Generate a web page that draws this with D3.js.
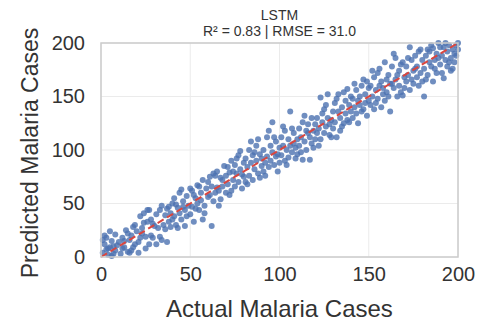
<!DOCTYPE html>
<html>
<head>
<meta charset="utf-8">
<script src="https://cdn.jsdelivr.net/npm/d3@7"></script>
<style>
  html, body { margin: 0; padding: 0; background: #fff; }
  svg { display: block; font-family: "Liberation Sans", Arial, sans-serif; }
</style>
</head>
<body>
<div id="chart"></div>
<script>
// chart texts
const modelName = 'LSTM';
const scoreLine = 'R\u00b2 = 0.83 | RMSE = 31.0';
const xLabel = 'Actual Malaria Cases';
const yLabel = 'Predicted Malaria Cases';
const xTicks = [0, 50, 100, 150, 200];
const yTicks = [0, 50, 100, 150, 200];

// [actual, predicted] pairs
const cases = [
  [1, 4], [2, 12], [3, 18], [4, 2], [5, 9], [6, 15], [7, 3], [8, 21], [9, 11], [3, 7], [6, 1], [8, 6], [2, 20], [10, 14], [5, 24], [7, 10], [1, 16], [4, 8],
  [11, 3], [12, 18], [13, 9], [14, 25], [15, 5], [16, 4], [17, 20], [18, 28], [19, 12], [12, 8], [15, 22], [17, 6], [19, 30], [13, 15], [16, 16], [18, 9], [20, 24], [21, 4],
  [21, 14], [22, 38], [23, 22], [24, 32], [25, 19], [26, 44], [27, 12], [28, 35], [29, 18], [22, 18], [24, 41], [26, 33], [28, 20], [30, 29], [23, 27], [27, 44], [29, 31], [25, 8],
  [31, 12], [31, 40], [32, 27], [33, 19], [34, 16], [34, 48], [35, 30], [36, 39], [37, 14], [37, 45], [38, 33], [39, 41], [39, 28], [40, 50], [33, 44], [36, 26], [38, 47], [40, 35],
  [41, 38], [41, 55], [42, 30], [43, 46], [44, 41], [44, 60], [45, 35], [46, 52], [47, 44], [47, 29], [48, 57], [49, 48], [50, 40], [42, 49], [45, 63], [48, 38], [50, 64], [46, 47], [43, 27],
  [51, 47], [51, 62], [52, 33], [53, 55], [54, 50], [54, 67], [55, 44], [56, 60], [57, 35], [57, 72], [58, 48], [59, 64], [60, 56], [52, 58], [55, 66], [58, 41], [60, 70], [53, 45], [56, 53],
  [61, 58], [61, 75], [62, 29], [62, 66], [63, 52], [64, 76], [64, 60], [65, 80], [66, 62], [67, 54], [67, 74], [68, 66], [69, 85], [70, 60], [63, 78], [66, 48], [68, 72], [70, 76], [65, 65],
  [71, 68], [71, 84], [72, 79], [73, 62], [73, 90], [74, 72], [75, 66], [75, 86], [76, 78], [77, 70], [77, 95], [78, 99], [78, 82], [79, 64], [80, 88], [80, 75], [72, 58], [74, 80], [76, 92], [79, 77],
  [81, 70], [81, 92], [82, 84], [83, 100], [83, 76], [84, 88], [85, 95], [85, 72], [86, 82], [87, 104], [87, 90], [88, 78], [89, 96], [90, 85], [82, 68], [84, 108], [86, 98], [88, 110], [90, 92], [89, 74],
  [91, 80], [91, 100], [92, 88], [93, 112], [93, 94], [94, 84], [95, 104], [95, 90], [96, 126], [96, 98], [97, 86], [98, 108], [98, 94], [99, 80], [100, 102], [92, 76], [94, 118], [97, 112], [99, 96], [100, 88],
  [101, 95], [101, 112], [102, 104], [103, 90], [103, 118], [104, 100], [105, 110], [105, 93], [106, 136], [106, 104], [107, 98], [108, 116], [108, 106], [109, 92], [110, 110], [102, 122], [104, 86], [107, 120], [109, 102], [110, 96],
  [111, 104], [111, 120], [112, 112], [113, 91], [113, 126], [114, 108], [115, 118], [115, 100], [116, 124], [117, 91], [117, 112], [118, 130], [118, 106], [119, 118], [120, 110], [112, 98], [114, 132], [116, 116], [119, 102], [120, 124],
  [121, 116], [121, 130], [122, 120], [123, 149], [123, 110], [124, 126], [125, 116], [125, 138], [126, 122], [127, 152], [127, 130], [128, 114], [129, 128], [130, 120], [122, 104], [124, 134], [126, 142], [128, 124], [130, 136], [129, 112],
  [131, 126], [131, 144], [132, 112], [133, 136], [133, 152], [134, 130], [135, 140], [135, 122], [136, 125], [137, 146], [137, 134], [138, 157], [138, 128], [139, 142], [140, 136], [132, 148], [134, 118], [136, 154], [139, 126], [140, 150],
  [141, 130], [141, 148], [142, 140], [143, 156], [143, 134], [144, 125], [145, 150], [145, 142], [146, 160], [147, 166], [147, 138], [148, 152], [148, 144], [149, 132], [150, 158], [142, 162], [144, 146], [146, 136], [149, 164], [150, 146],
  [151, 142], [151, 160], [152, 150], [153, 168], [153, 138], [154, 156], [155, 148], [155, 172], [156, 160], [157, 140], [157, 164], [158, 152], [159, 182], [159, 146], [160, 166], [152, 174], [154, 144], [156, 176], [158, 158], [160, 154],
  [161, 150], [161, 170], [162, 136], [162, 162], [163, 178], [164, 158], [165, 186], [165, 166], [166, 150], [167, 174], [167, 160], [168, 180], [168, 154], [169, 151], [170, 168], [163, 162], [164, 190], [166, 170], [169, 182], [170, 158],
  [171, 164], [171, 178], [172, 170], [173, 196], [173, 156], [174, 184], [175, 162], [175, 174], [176, 188], [177, 168], [177, 178], [178, 192], [178, 160], [179, 172], [180, 184], [172, 186], [174, 166], [176, 176], [179, 194], [180, 164],
  [181, 150], [181, 176], [182, 188], [183, 194], [183, 170], [184, 182], [185, 198], [185, 178], [186, 195], [186, 164], [187, 184], [188, 190], [188, 172], [189, 200], [190, 180], [182, 166], [184, 192], [187, 176], [189, 186], [190, 196],
  [191, 172], [191, 188], [192, 167], [192, 196], [193, 184], [194, 192], [194, 178], [195, 198], [196, 186], [196, 174], [197, 194], [198, 190], [198, 182], [199, 198], [200, 194], [193, 200], [195, 182], [197, 176], [199, 188], [200, 200]
];

const width = 479;
const height = 327;
const margin = { top: 43, right: 21, bottom: 70, left: 101 };
const textColor = '#333333';

const svg = d3.select('#chart')
  .append('svg')
  .attr('width', width)
  .attr('height', height);

const x = d3.scaleLinear()
  .domain([0, 200])
  .range([margin.left, width - margin.right]);

const y = d3.scaleLinear()
  .domain([0, 200])
  .range([height - margin.bottom, margin.top]);

// grid
const grid = svg.append('g').attr('stroke', '#ebebeb').attr('stroke-width', 1);
grid.selectAll('.gx')
  .data(xTicks)
  .join('line')
  .attr('x1', d => x(d)).attr('x2', d => x(d))
  .attr('y1', y.range()[0]).attr('y2', y.range()[1]);
grid.selectAll('.gy')
  .data(yTicks)
  .join('line')
  .attr('y1', d => y(d)).attr('y2', d => y(d))
  .attr('x1', x.range()[0]).attr('x2', x.range()[1]);

// points
svg.append('g')
  .selectAll('circle')
  .data(cases)
  .join('circle')
  .attr('cx', d => x(d[0]))
  .attr('cy', d => y(d[1]))
  .attr('r', 3)
  .attr('fill', '#4c72b0')
  .attr('fill-opacity', 0.8);

// y = x reference
svg.append('line')
  .attr('x1', x(0)).attr('y1', y(0))
  .attr('x2', x(200)).attr('y2', y(200))
  .attr('stroke', '#d9463f')
  .attr('stroke-width', 2)
  .attr('stroke-dasharray', '7,4');

// frame
svg.append('rect')
  .attr('x', x.range()[0])
  .attr('y', y.range()[1])
  .attr('width', x.range()[1] - x.range()[0])
  .attr('height', y.range()[0] - y.range()[1])
  .attr('fill', 'none')
  .attr('stroke', '#cccccc')
  .attr('stroke-width', 1.5);

// axes
const xAxis = svg.append('g')
  .attr('transform', `translate(0,${y.range()[0]})`)
  .call(d3.axisBottom(x).tickValues(xTicks).tickSize(0).tickPadding(10));
const yAxis = svg.append('g')
  .attr('transform', `translate(${x.range()[0]},0)`)
  .call(d3.axisLeft(y).tickValues(yTicks).tickSize(0).tickPadding(16));
[xAxis, yAxis].forEach(a => {
  a.select('.domain').remove();
  a.selectAll('text')
    .attr('fill', textColor)
    .style('font-size', '20px')
    .style('font-family', '"Liberation Sans", Arial, sans-serif');
});

// labels
svg.append('text')
  .attr('x', (x.range()[0] + x.range()[1]) / 2)
  .attr('y', 317)
  .attr('text-anchor', 'middle')
  .attr('fill', textColor)
  .style('font-size', '24px')
  .text(xLabel);

svg.append('text')
  .attr('transform', `translate(38,${(y.range()[0] + y.range()[1]) / 2 + 3}) rotate(-90)`)
  .attr('text-anchor', 'middle')
  .attr('fill', textColor)
  .style('font-size', '23px')
  .text(yLabel);

// title
svg.append('text')
  .attr('x', (x.range()[0] + x.range()[1]) / 2)
  .attr('y', 20)
  .attr('text-anchor', 'middle')
  .attr('fill', textColor)
  .style('font-size', '14px')
  .text(modelName);

svg.append('text')
  .attr('x', (x.range()[0] + x.range()[1]) / 2)
  .attr('y', 36)
  .attr('text-anchor', 'middle')
  .attr('fill', textColor)
  .style('font-size', '14px')
  .text(scoreLine);
</script>
</body>
</html>
